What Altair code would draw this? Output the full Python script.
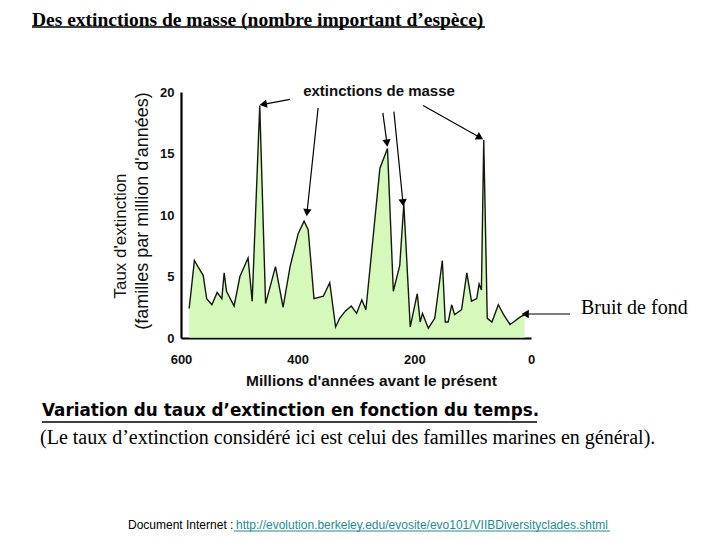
import math
import altair as alt
import pandas as pd

# ---- data ----
my = [586, 577, 571, 562, 556, 547, 538, 530, 526, 522, 509, 499, 485, 478, 465,
      455, 438, 425, 413, 399, 389, 382, 372, 356, 345, 335, 328, 318, 308, 299,
      290, 283, 259, 246, 236, 225, 218, 207, 195, 190, 186, 176, 165, 152, 147,
      142, 136, 131, 119, 110, 102, 93, 89, 85, 81, 75, 67, 56, 47, 36, 30, 19, 11]
rate = [2.4, 6.3, 5.8, 5.1, 3.2, 2.7, 3.7, 3.2, 5.3, 3.8, 2.6, 5.0, 6.5, 3.0, 18.9,
        2.8, 5.8, 2.5, 5.8, 8.5, 9.5, 8.8, 3.2, 3.4, 4.5, 0.9, 1.6, 2.2, 2.6, 2.0,
        3.1, 2.3, 13.8, 15.4, 3.8, 5.9, 10.9, 0.9, 3.6, 1.3, 2.0, 0.8, 1.6, 6.3, 1.3,
        1.3, 2.7, 1.9, 2.3, 5.3, 3.0, 3.2, 4.4, 3.9, 16.1, 1.6, 1.3, 2.7, 1.9, 1.1, 1.3, 1.7, 1.9]

x_ticks = [600, 400, 200, 0]
y_ticks = [0, 5, 10, 15, 20]

# arrows: start (My, rate) -> tip (My, rate)
arrow_x1 = [413, 365, 254, 235, 185, -67]
arrow_y1 = [19.4, 18.7, 18.3, 18.4, 18.9, 1.95]
arrow_x2 = [459, 384, 247, 219.5, 87.5, 10]
arrow_y2 = [19.0, 10.2, 15.85, 11.0, 16.3, 1.95]

W, H = 350, 246
PX_X = W / 600.0
PX_Y = H / 20.0

angles = []
for a, b, c, d in zip(arrow_x1, arrow_y1, arrow_x2, arrow_y2):
    dx = -(c - a) * PX_X
    dy = -(d - b) * PX_Y
    angles.append(math.degrees(math.atan2(dx, -dy)) % 360)

df = pd.DataFrame({"my": my, "rate": rate})
arrows = pd.DataFrame({"x1": arrow_x1, "y1": arrow_y1, "x2": arrow_x2, "y2": arrow_y2,
                       "ang": angles})

xscale = alt.Scale(domain=[0, 600], reverse=True, nice=False)
yscale = alt.Scale(domain=[0, 20], nice=False)

area = alt.Chart(df).mark_area(
    color="#c3f69e", line={"color": "#111a0c", "strokeWidth": 1.4}, interpolate="linear"
).encode(
    x=alt.X("my:Q", scale=xscale,
            axis=alt.Axis(values=x_ticks, title=None, grid=False, ticks=False,
                          labelFlush=False, labelOverlap=False,
                          labelPadding=15, labelFontSize=13, labelFontWeight="bold",
                          labelFont="Liberation Sans", labelColor="#111",
                          domainColor="#000", domainWidth=2.2)),
    y=alt.Y("rate:Q", scale=yscale,
            axis=alt.Axis(values=y_ticks, title=None, grid=False, ticks=False,
                          labelFlush=False, labelOverlap=False,
                          labelPadding=7, labelFontSize=13, labelFontWeight="bold",
                          labelFont="Liberation Sans", labelColor="#111",
                          domainColor="#000", domainWidth=2.2)),
)

rules = alt.Chart(arrows).mark_rule(color="#000", strokeWidth=1.2).encode(
    x=alt.X("x1:Q", scale=xscale), y=alt.Y("y1:Q", scale=yscale),
    x2="x2:Q", y2="y2:Q",
)
heads = alt.Chart(arrows).mark_point(
    shape="triangle-up", filled=True, color="#000", opacity=1, size=70
).encode(
    x=alt.X("x2:Q", scale=xscale), y=alt.Y("y2:Q", scale=yscale),
    angle=alt.Angle("ang:Q", scale=None),
)


def label(text, x, y, **style):
    return alt.Chart(pd.DataFrame({"t": [text]})).mark_text(**style).encode(
        text="t:N", x=alt.value(x), y=alt.value(y))


def hline(x1, x2, y, color="#000", width=1.5):
    return alt.Chart(pd.DataFrame({"k": [0]})).mark_rule(
        color=color, strokeWidth=width).encode(
        x=alt.value(x1), x2=alt.value(x2), y=alt.value(y))


texts = [
    label("Des extinctions de masse (nombre important d\u2019esp\u00e8ce)", -149, -72.5,
          align="left", baseline="middle", font="Liberation Serif", fontSize=19.5,
          fontWeight="bold", color="#000"),
    hline(-149, 304, -65),
    label("Taux d'extinction", -60, 144, angle=270, align="center", baseline="middle",
          font="Liberation Sans", fontSize=17, color="#111"),
    label("(familles par million d'ann\u00e9es)", -38, 119, angle=270, align="center",
          baseline="middle", font="Liberation Sans", fontSize=18, color="#111"),
    label("extinctions de masse", 198, -1, align="center", baseline="middle",
          font="Liberation Sans", fontSize=15, fontWeight="bold", color="#111"),
    label("Millions d'ann\u00e9es avant le pr\u00e9sent", 190.5, 289, align="center",
          baseline="middle", font="Liberation Sans", fontSize=15.5, fontWeight="bold",
          color="#111"),
    label("Bruit de fond", 400, 216, align="left", baseline="middle",
          font="Liberation Serif", fontSize=20, color="#000"),
    label("Variation du taux d\u2019extinction en fonction du temps.", -139, 319,
          align="left", baseline="middle", font="DejaVu Sans", fontSize=16.8,
          fontWeight="bold", color="#000"),
    hline(-139, 356, 330),
    label("(Le taux d\u2019extinction consid\u00e9r\u00e9 ici est celui des familles marines en g\u00e9n\u00e9ral).",
          -141, 346, align="left", baseline="middle", font="Liberation Serif",
          fontSize=20, color="#000"),
    label("Document Internet : ", -53, 433, align="left", baseline="middle",
          font="Liberation Sans", fontSize=12, color="#000"),
    label("http://evolution.berkeley.edu/evosite/evo101/VIIBDiversityclades.shtml",
          55, 433, align="left", baseline="middle", font="Liberation Sans",
          fontSize=12, color="#1f8c8c"),
    hline(53, 429, 439, color="#1f8c8c", width=1),
]

chart = alt.layer(area, rules, heads, *texts).properties(
    width=W, height=H,
    autosize=alt.AutoSizeParams(type="none"),
    padding={"left": 173, "top": 84, "right": 181, "bottom": 194},
    background="white",
).configure_view(stroke=None)

chart.save("out.html", embed_options={"renderer": "svg", "actions": False})
